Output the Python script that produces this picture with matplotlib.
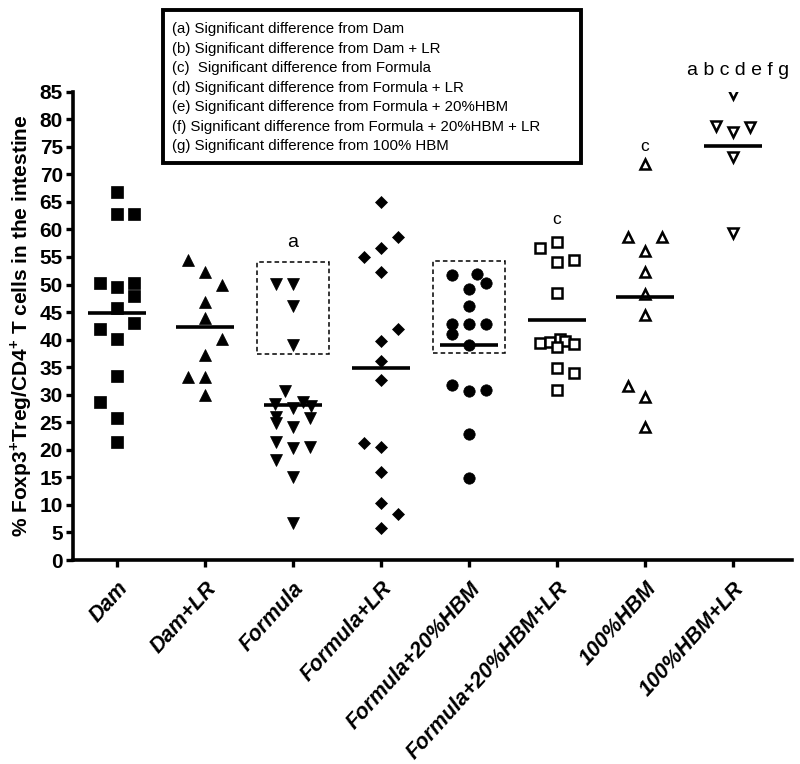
import matplotlib
matplotlib.use("Agg")
import matplotlib.pyplot as plt
from matplotlib.patches import Rectangle
import numpy as np

plt.rcParams['font.family'] = ['Liberation Sans', 'DejaVu Sans']
plt.rcParams['mathtext.fontset'] = 'custom'
plt.rcParams['mathtext.rm'] = 'Liberation Sans'
plt.rcParams['mathtext.bf'] = 'Liberation Sans:bold'

# ---------------- data ----------------
groups = ["Dam", "Dam+LR", "Formula", "Formula+LR", "Formula+20%HBM",
          "Formula+20%HBM+LR", "100%HBM", "100%HBM+LR"]

dam = [66.8, 62.8, 62.8, 50.2, 49.5, 50.2, 47.9, 45.7, 43.1, 41.9, 40.2, 33.4, 28.7, 25.7, 21.5]
dam_col = [0, 0, 1, -1, 0, 1, 1, 0, 1, -1, 0, 0, -1, 0, 0]

dam_lr = [54.4, 52.3, 49.9, 46.9, 43.9, 40.1, 37.2, 33.2, 33.2, 29.9]
dam_lr_col = [-1, 0, 1, 0, 0, 1, 0, -1, 0, 0]

formula = [50.1, 50.1, 46.1, 39.0, 30.6, 28.4, 27.5, 28.7, 27.9, 26.0, 24.8, 24.2,
           25.7, 21.5, 20.3, 20.6, 18.1, 15.1, 6.7]
formula_col = [-1, 0, 0, 0, -0.5, -1.05, 0, 0.6, 1.05, -1, -1, 0, 1, -1, 0, 1, -1, 0, 0]

formula_lr = [64.9, 58.6, 56.7, 55.0, 52.3, 42.0, 39.7, 36.2, 32.7, 21.2, 20.6, 16.0, 10.3, 8.3, 5.9]
formula_lr_col = [0, 1, 0, -1, 0, 1, 0, 0, 0, -1, 0, 0, 0, 1, 0]

f20 = [51.7, 51.9, 50.3, 49.2, 46.1, 42.8, 42.8, 42.8, 41.0, 39.1, 31.8, 30.7, 30.8, 22.8, 14.8]
f20_col = [-1, 0.5, 1, 0, 0, -1, 0, 1, -1, 0, -1, 0, 1, 0, 0]

f20_lr = [56.7, 57.8, 54.4, 54.0, 48.5, 39.3, 39.6, 40.1, 39.7, 39.2, 38.6, 34.8, 34.0, 30.9]
f20_lr_col = [-1, 0, 1, 0, 0, -1, -0.4, 0.2, 0.5, 1, 0, 0, 1, 0]

hbm100 = [71.9, 58.7, 58.7, 56.1, 52.2, 48.3, 44.5, 31.6, 29.6, 24.1]
hbm100_col = [0, -1, 1, 0, 0, 0, 0, -1, 0, 0]

hbm100_lr = [84.6, 78.8, 77.7, 78.5, 73.2, 59.3]
hbm100_lr_col = [0, -1, 0, 1, 0, 0]

mean_line = [44.8, 42.3, 28.1, 34.8, 39.1, 43.6, 47.8, 75.1]

sig_labels = ["", "", "a", "", "", "c", "c", "a b c d e f g"]
sig_y = [0, 0, 56.9, 0, 0, 61.0, 74.3, 88.0]

legend_lines = [
    "(a) Significant difference from Dam",
    "(b) Significant difference from Dam + LR",
    "(c)  Significant difference from Formula",
    "(d) Significant difference from Formula + LR",
    "(e) Significant difference from Formula + 20%HBM",
    "(f) Significant difference from Formula + 20%HBM + LR",
    "(g) Significant difference from 100% HBM",
]

yticks = list(range(0, 90, 5))

# ---------------- styles ----------------
values = [dam, dam_lr, formula, formula_lr, f20, f20_lr, hbm100, hbm100_lr]
cols = [dam_col, dam_lr_col, formula_col, formula_lr_col, f20_col, f20_lr_col,
        hbm100_col, hbm100_lr_col]
markers = ['s', '^', 'v', 'D', 'o', 's', '^', 'v']
filled = [True, True, True, True, True, False, False, False]
msizes = [8.0, 8.6, 8.6, 5.8, 8.2, 6.6, 7.0, 7.0]
step = 0.19

fig = plt.figure(figsize=(8, 7.64), dpi=100)
ax = fig.add_axes([0.0909, 0.267, 0.899, 0.613])

for i, (vals, cc) in enumerate(zip(values, cols)):
    x = i + step * np.array(cc, dtype=float)
    if filled[i]:
        ax.plot(x, vals, linestyle='none', marker=markers[i], ms=msizes[i],
                mfc='black', mec='black', mew=0.5, zorder=3)
    else:
        ax.plot(x, vals, linestyle='none', marker=markers[i], ms=msizes[i],
                mfc='white', mec='black', mew=1.8, zorder=3)
    ax.plot([i - 0.33, i + 0.33], [mean_line[i]] * 2, color='black', lw=2.6,
            solid_capstyle='butt', zorder=4)
    if sig_labels[i]:
        fs = 12.5 if sig_labels[i] == 'c' else 14
        xoff = 0.06 if len(sig_labels[i]) > 1 else 0.0
        ax.text(i + xoff, sig_y[i], sig_labels[i], ha='center', va='baseline',
                fontsize=fs, clip_on=False)

# dashed boxes
for gi, (y0, y1) in [(2, (37.3, 54.0)), (4, (37.6, 54.3))]:
    ax.add_patch(Rectangle((gi - 0.41, y0), 0.82, y1 - y0, fill=False,
                           ls=(0, (3, 2)), lw=1.1, ec='black', zorder=2))

ax.set_xlim(-0.503, 7.67)
ax.set_ylim(0, 85)
ax.set_yticks(yticks)
ax.set_yticklabels([str(t) for t in yticks], fontsize=15, fontweight='bold')
ax.set_xticks(range(len(groups)))
ax.set_xticklabels(groups, fontsize=15.5, fontweight='bold', fontstyle='italic',
                   rotation=48, ha='right', rotation_mode='anchor')
ax.tick_params(axis='both', width=2.4, length=5, direction='out', pad=2)
ax.tick_params(axis='x', pad=8)
for s in ['top', 'right']:
    ax.spines[s].set_visible(False)
for s in ['left', 'bottom']:
    ax.spines[s].set_linewidth(2.6)

ax.set_ylabel(r'% Foxp3$^{\mathbf{+}}$Treg/CD4$^{\mathbf{+}}$ T cells in the intestine',
              fontsize=15, fontweight='bold', labelpad=4)

# legend box (figure coordinates)
fig.patches.append(Rectangle((163 / 800, 1 - 163 / 764), (581 - 163) / 800, (163 - 10) / 764,
                             transform=fig.transFigure, fill=False, lw=2.8, ec='black'))
ys_px = [29, 49, 68, 88, 107, 127, 146]
for line, yp in zip(legend_lines, ys_px):
    fig.text(172 / 800, 1 - yp / 764, line, ha='left', va='center', fontsize=10.8)

fig.savefig("out.png", dpi=100)
